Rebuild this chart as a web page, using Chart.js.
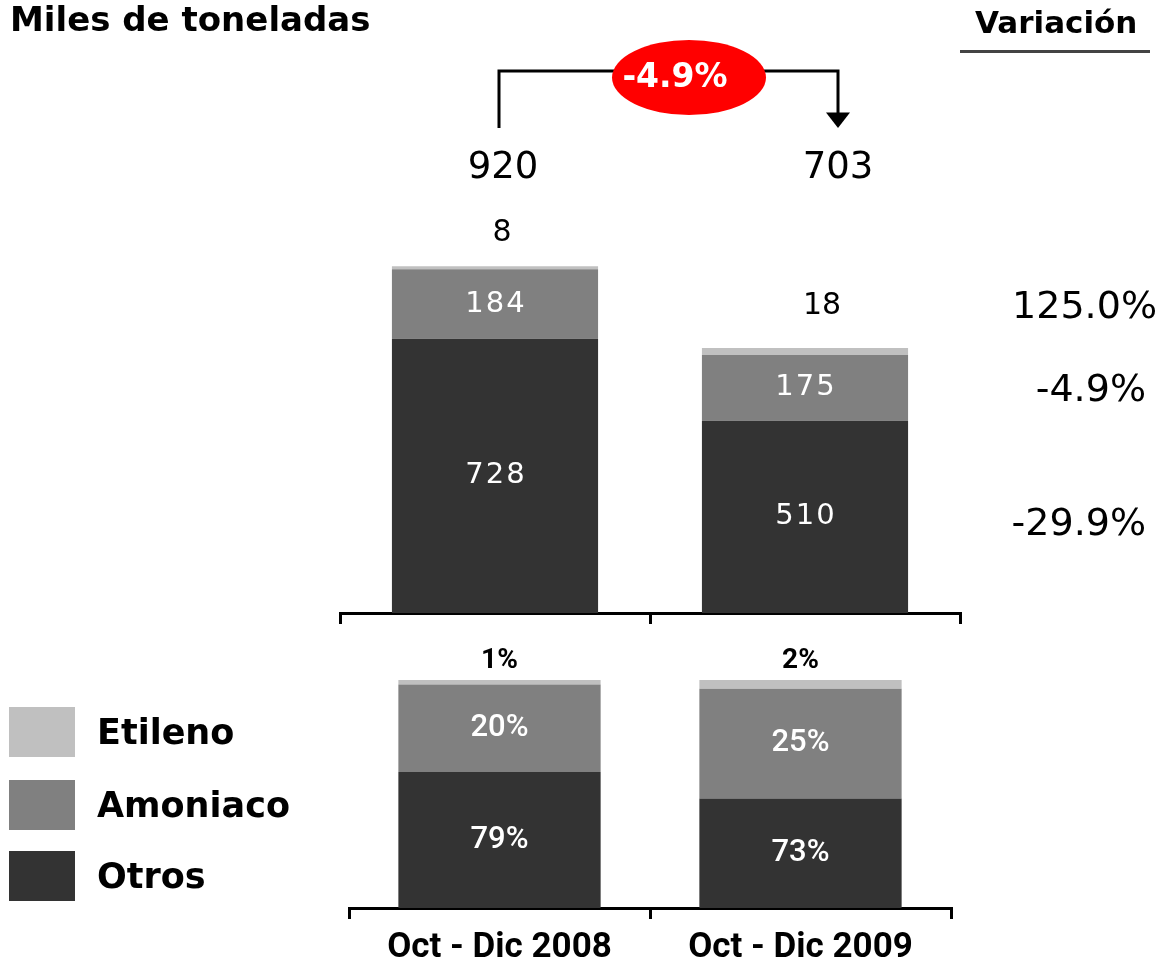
<!DOCTYPE html>
<html><head><meta charset="utf-8">
<script src="https://cdn.jsdelivr.net/npm/chart.js@4.4.1/dist/chart.umd.min.js"></script>
<style>
html,body{margin:0;padding:0;background:#fff;overflow:hidden;}
#page{position:relative;width:1163px;height:964px;overflow:hidden;font-family:"DejaVu Sans",sans-serif;color:#000;}
.t{position:absolute;line-height:1;transform:translateY(-50%);white-space:nowrap;}
.sw{position:absolute;left:9px;width:66px;height:50px;}
canvas{position:absolute;left:0;}
</style></head>
<body><div id="page">
<canvas id="topc" width="1163" height="640" style="top:0"></canvas>
<canvas id="botc" width="1163" height="340" style="top:636px"></canvas>
<div class="t" style="left:10px;top:19px;font-size:34px;font-weight:bold">Miles de toneladas</div>
<div class="t" style="left:975px;top:22px;font-size:31px;font-weight:bold">Variación</div>
<div style="position:absolute;left:960px;top:50px;width:190px;height:3px;background:#444"></div>
<div id="var"></div>
<div id="legend"></div>
</div>
<script>
// ---- data ----
const categories = ['Oct - Dic 2008', 'Oct - Dic 2009'];
const seriesNames = ['Otros', 'Amoniaco', 'Etileno'];
const otros = [728, 510];
const amoniaco = [184, 175];
const etileno = [8, 18];
const otrosPct = [79, 73];
const amoniacoPct = [20, 25];
const etilenoPct = [1, 2];
const variacion = ['125.0%', '-4.9%', '-29.9%']; // Etileno, Amoniaco, Otros
const totalChange = '-4.9%';

// ---- styles ----
const COLORS = {Otros:'#333333', Amoniaco:'#808080', Etileno:'#C0C0C0'};
const NUM_FONT = '"DejaVu Sans", sans-serif';
const NARROW = 'Roboto, "DejaVu Sans Condensed", sans-serif';

// HTML legend
const legend = document.getElementById('legend');
const legendOrder = ['Etileno','Amoniaco','Otros'];
const legTop = [707, 780, 851];
legendOrder.forEach((n,i)=>{
  const s=document.createElement('div'); s.className='sw';
  s.style.top=legTop[i]+'px'; s.style.background=COLORS[n]; legend.appendChild(s);
  const t=document.createElement('div'); t.className='t'; t.textContent=n;
  t.style.left='97px'; t.style.top=(legTop[i]+25)+'px'; t.style.fontSize='35px'; t.style.fontWeight='bold';
  legend.appendChild(t);
});
// variation column
const varEl = document.getElementById('var');
const varPos = [[304.5,6],[387.5,17],[522,17]];
variacion.forEach((v,i)=>{
  const t=document.createElement('div'); t.className='t'; t.textContent=v;
  t.style.right=varPos[i][1]+'px'; t.style.top=varPos[i][0]+'px'; t.style.fontSize='38px';
  varEl.appendChild(t);
});

const topLabels = {
  id:'topLabels',
  afterDatasetsDraw(chart){
    const ctx=chart.ctx, ca=chart.chartArea;
    const ds=chart.data.datasets;
    ctx.save();
    ctx.textAlign='center'; ctx.textBaseline='middle';
    ctx.fillStyle='#fff'; ctx.font='29px '+NUM_FONT;
    try { ctx.letterSpacing='2px'; } catch(e) {}
    [0,1].forEach(di=>chart.getDatasetMeta(di).data.forEach((bar,i)=>{
      ctx.fillText(String(ds[di].data[i]), bar.x+1, (bar.y+bar.base)/2);
    }));
    try { ctx.letterSpacing='0px'; } catch(e) {}
    ctx.fillStyle='#000'; ctx.font='30px '+NUM_FONT;
    const edx=[7,17], edy=[33,42];
    chart.getDatasetMeta(2).data.forEach((bar,i)=>{
      ctx.fillText(String(ds[2].data[i]), bar.x+edx[i], bar.y-edy[i]);
    });
    // totals + bracket
    const bars=chart.getDatasetMeta(0).data;
    const dx=[8,33];
    const tx=bars.map((b,i)=>b.x+dx[i]);
    const ty=ca.top-30.5;
    ctx.font='37px '+NUM_FONT;
    categories.forEach((c,i)=>{
      const tot=ds.reduce((s,d)=>s+d.data[i],0);
      ctx.fillText(String(tot), tx[i], ty);
    });
    const x1=tx[0]-4, x2=tx[1];
    const yl=ca.top-127.5;
    ctx.strokeStyle='#000'; ctx.lineWidth=3;
    ctx.beginPath();
    ctx.moveTo(x1, ca.top-70.5); ctx.lineTo(x1, yl); ctx.lineTo(x2, yl); ctx.lineTo(x2, ca.top-85);
    ctx.stroke();
    ctx.beginPath();
    ctx.moveTo(x2-12, ca.top-86); ctx.lineTo(x2+12, ca.top-86); ctx.lineTo(x2, ca.top-70.5); ctx.closePath();
    ctx.fillStyle='#000'; ctx.fill();
    const ex=(x1+x2)/2+20.5, ey=ca.top-121;
    ctx.beginPath(); ctx.ellipse(ex, ey, 77, 37.5, 0, 0, Math.PI*2);
    ctx.fillStyle='#FF0000'; ctx.fill();
    ctx.fillStyle='#fff'; ctx.font='bold 33px '+NUM_FONT;
    ctx.fillText(totalChange, ex-14, ey+0.5);
    ctx.restore();
  }
};

const botLabels = {
  id:'botLabels',
  afterDatasetsDraw(chart){
    const ctx=chart.ctx, ca=chart.chartArea;
    const ds=chart.data.datasets;
    ctx.save();
    ctx.textAlign='center'; ctx.textBaseline='middle';
    ctx.fillStyle='#fff'; ctx.font='500 31px '+NARROW;
    [0,1].forEach(di=>chart.getDatasetMeta(di).data.forEach((bar,i)=>{
      const top=Math.max(bar.y, ca.top), base=Math.min(bar.base, ca.bottom);
      ctx.fillText(ds[di].data[i]+'%', bar.x, (top+base)/2);
    }));
    ctx.fillStyle='#000'; ctx.font='bold 28px '+NARROW;
    chart.getDatasetMeta(2).data.forEach((bar,i)=>{
      ctx.fillText(ds[2].data[i]+'%', bar.x, bar.y-19);
    });
    ctx.restore();
  }
};

function mkDatasets(o,a,e){
  return [
    {label:'Otros', data:o, backgroundColor:COLORS.Otros},
    {label:'Amoniaco', data:a, backgroundColor:COLORS.Amoniaco},
    {label:'Etileno', data:e, backgroundColor:COLORS.Etileno}
  ];
}
function xAxis(showTicks){
  return {
    stacked:true, offset:true,
    grid:{display:true, offset:true, drawOnChartArea:false, drawTicks:true, tickLength:11, lineWidth:3, color:'#000'},
    border:{display:true, color:'#000', width:3},
    ticks:showTicks ? {display:true, color:'#000', padding:11.5, maxRotation:0, font:{family:NARROW, size:35, weight:'bold', lineHeight:1}} : {display:false}
  };
}

new Chart(document.getElementById('topc'), {
  type:'bar',
  data:{labels:categories, datasets:mkDatasets(otros, amoniaco, etileno)},
  options:{
    responsive:false, animation:false, devicePixelRatio:1,
    layout:{padding:{left:340, right:203, top:198.5, bottom:16}},
    plugins:{legend:{display:false}, tooltip:{enabled:false}},
    datasets:{bar:{categoryPercentage:1, barPercentage:0.665, borderWidth:0}},
    scales:{ x:xAxis(false), y:{stacked:true, display:false, min:0, max:1100} }
  },
  plugins:[topLabels]
});

new Chart(document.getElementById('botc'), {
  type:'bar',
  data:{labels:categories, datasets:mkDatasets(otrosPct, amoniacoPct, etilenoPct)},
  options:{
    responsive:false, animation:false, devicePixelRatio:1,
    layout:{padding:{left:349, right:212, top:44, bottom:-1}},
    plugins:{legend:{display:false}, tooltip:{enabled:false}},
    datasets:{bar:{categoryPercentage:1, barPercentage:0.672, borderWidth:0}},
    scales:{ x:xAxis(true), y:{stacked:true, display:false, min:48, max:100} }
  },
  plugins:[botLabels]
});
</script>
</body></html>
